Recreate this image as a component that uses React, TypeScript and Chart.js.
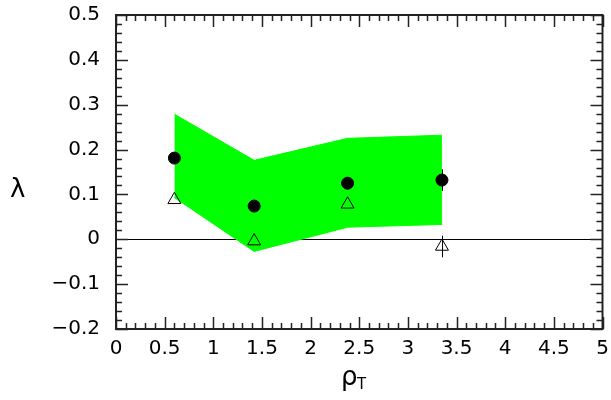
import React, { useEffect, useRef } from "react";
import { Chart, registerables } from "chart.js";

Chart.register(...registerables);

const pointX = [0.6, 1.42, 2.38, 3.35];
const circleY = [0.181, 0.074, 0.125, 0.132];
const circleErr = [0, 0, 0, 0.024];
const triangleY = [0.088, -0.004, 0.078, -0.016];
const triangleErr = [0, 0, 0, 0.024];
const bandX = [0.6, 1.42, 2.38, 3.35];
const bandUpper = [0.279, 0.176, 0.225, 0.232];
const bandLower = [0.093, -0.027, 0.027, 0.033];
const xTicks = [0, 0.5, 1, 1.5, 2, 2.5, 3, 3.5, 4, 4.5, 5];
const yTicks = [-0.2, -0.1, 0, 0.1, 0.2, 0.3, 0.4, 0.5];

const FONT = "DejaVu Sans";

const fmt = (v: number) => {
  if (Math.abs(v) < 1e-9) return "0";
  const s = Number.isInteger(v) ? String(v) : v.toFixed(1);
  return s.replace("-", "\u2212");
};

const framePlugin = {
  id: "framePlugin",
  afterDatasetsDraw(chart: any) {
    const { ctx, chartArea, scales } = chart;
    const xs = scales.x;
    const ys = scales.y;
    ctx.save();
    ctx.strokeStyle = "#000";
    ctx.lineWidth = 1;
    const drawErr = (vals: number[], errs: number[]) => {
      for (let i = 0; i < pointX.length; i++) {
        if (!errs[i]) continue;
        const px = Math.round(xs.getPixelForValue(pointX[i])) + 0.5;
        ctx.beginPath();
        ctx.moveTo(px, ys.getPixelForValue(vals[i] - errs[i]));
        ctx.lineTo(px, ys.getPixelForValue(vals[i] + errs[i]));
        ctx.stroke();
      }
    };
    drawErr(circleY, circleErr);
    drawErr(triangleY, triangleErr);

    const { left, right, top, bottom } = chartArea;
    ctx.strokeStyle = "#222";
    ctx.lineWidth = 1.5;
    for (let i = 0; i <= 50; i++) {
      const v = i * 0.1;
      const px = Math.round(xs.getPixelForValue(v)) + 0.5;
      const len = i % 5 === 0 ? 12 : 6;
      ctx.beginPath();
      ctx.moveTo(px, bottom);
      ctx.lineTo(px, bottom - len);
      ctx.moveTo(px, top);
      ctx.lineTo(px, top + len);
      ctx.stroke();
    }
    for (let i = 0; i <= 35; i++) {
      const v = -0.2 + i * 0.02;
      const py = Math.round(ys.getPixelForValue(v)) + 0.5;
      const len = i % 5 === 0 ? 12 : 6;
      ctx.beginPath();
      ctx.moveTo(left, py);
      ctx.lineTo(left + len, py);
      ctx.moveTo(right, py);
      ctx.lineTo(right - len, py);
      ctx.stroke();
    }
    ctx.strokeStyle = "#222";
    ctx.lineWidth = 2;
    ctx.strokeRect(left, top, right - left, bottom - top);

    ctx.fillStyle = "#000";
    ctx.textBaseline = "alphabetic";
    ctx.textAlign = "left";
    ctx.font = `26px ${FONT}`;
    ctx.fillText("\u03bb", 10, 197);
    ctx.fillText("\u03c1", 341, 385);
    ctx.font = `15px ${FONT}`;
    ctx.fillText("T", 357, 389);
    ctx.restore();
  },
};

export default function App() {
  const ref = useRef<HTMLCanvasElement | null>(null);
  useEffect(() => {
    if (!ref.current) return;
    const chart = new Chart(ref.current, {
      type: "scatter",
      data: {
        datasets: [
          {
            label: "band upper",
            data: bandX.map((x, i) => ({ x, y: bandUpper[i] })),
            showLine: true,
            borderColor: "#00ff00",
            borderWidth: 1,
            backgroundColor: "#00ff00",
            pointRadius: 0,
            fill: "+1",
            tension: 0,
            order: 5,
          },
          {
            label: "band lower",
            data: bandX.map((x, i) => ({ x, y: bandLower[i] })),
            showLine: true,
            borderColor: "#00ff00",
            borderWidth: 1,
            pointRadius: 0,
            fill: false,
            tension: 0,
            order: 6,
          },
          {
            label: "circles",
            data: pointX.map((x, i) => ({ x, y: circleY[i] })),
            pointStyle: "circle",
            pointRadius: 6,
            backgroundColor: "#000",
            borderColor: "#000",
            borderWidth: 1,
            order: 1,
          },
          {
            label: "triangles",
            data: pointX.map((x, i) => ({ x, y: triangleY[i] })),
            pointStyle: "triangle",
            pointRadius: 7.5,
            backgroundColor: "rgba(0,0,0,0)",
            borderColor: "#000",
            borderWidth: 1,
            order: 0,
          },
        ],
      },
      options: {
        animation: false,
        responsive: true,
        maintainAspectRatio: false,
        layout: { padding: { top: 15, right: 5, left: 0, bottom: 0 } },
        plugins: {
          legend: { display: false },
          tooltip: { enabled: false },
        },
        scales: {
          x: {
            type: "linear",
            min: 0,
            max: 5,
            afterFit: (s: any) => {
              s.height = 71;
              s.paddingLeft = 0;
              s.paddingRight = 0;
            },
            afterBuildTicks: (s: any) => {
              s.ticks = xTicks.map((v) => ({ value: v }));
            },
            grid: { display: false, drawTicks: false },
            border: { display: false },
            ticks: {
              padding: 8,
              color: "#000",
              font: { family: FONT, size: 20 },
              maxRotation: 0,
              autoSkip: false,
              callback: (v: any) => fmt(Number(v)),
            },
          },
          y: {
            type: "linear",
            min: -0.2,
            max: 0.5,
            afterFit: (s: any) => {
              s.width = 116;
              s.paddingTop = 0;
              s.paddingBottom = 0;
            },
            afterBuildTicks: (s: any) => {
              s.ticks = yTicks.map((v) => ({ value: v }));
            },
            grid: {
              drawTicks: false,
              color: (c: any) =>
                c.tick && Math.abs(c.tick.value) < 1e-9 ? "#000" : "rgba(0,0,0,0)",
              lineWidth: 1,
            },
            border: { display: false },
            ticks: {
              padding: 16,
              color: "#000",
              font: { family: FONT, size: 20 },
              autoSkip: false,
              callback: (v: any) => fmt(Number(v)),
            },
          },
        },
      },
      plugins: [framePlugin],
    });
    return () => chart.destroy();
  }, []);
  return (
    <div style={{ position: "fixed", left: 0, top: 0, width: 611, height: 400, background: "#fff" }}>
      <canvas ref={ref} />
    </div>
  );
}
